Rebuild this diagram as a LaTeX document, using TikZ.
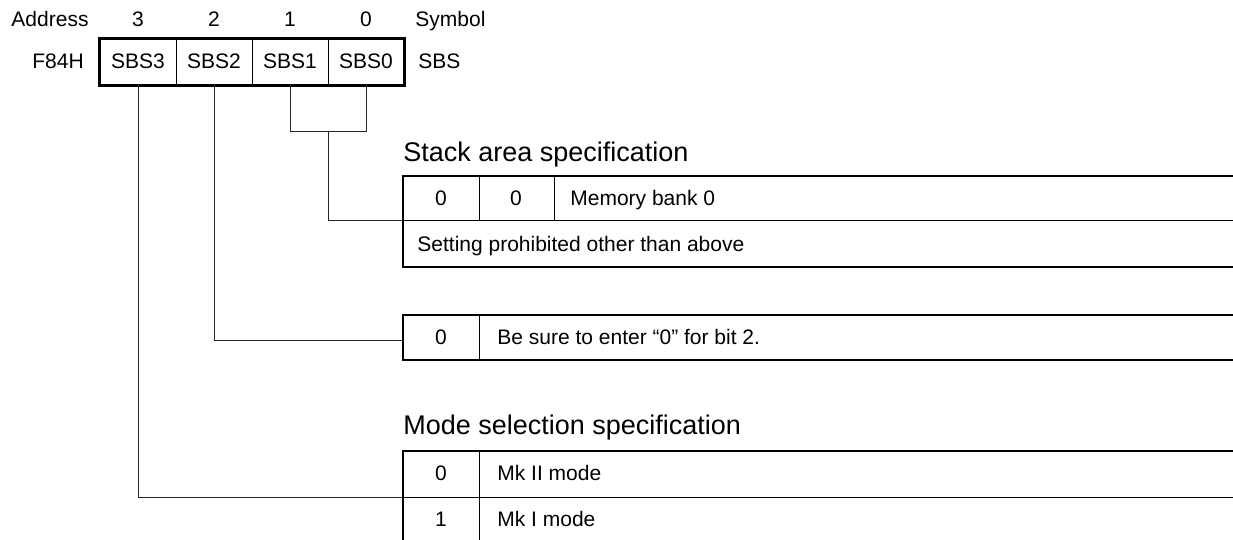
\documentclass[tikz,border=0pt]{standalone}
\usepackage{fontspec}
\setmainfont{Liberation Sans}
\usetikzlibrary{positioning,calc}
\tikzset{line join=miter,
  every node/.style={font=\fontsize{10.5}{12}\selectfont,text height=1.6ex,text depth=.4ex},
  regcell/.style={draw,line width=.5pt,minimum width=38pt,minimum height=23pt,inner sep=0pt},
  frame/.style={line width=1.1pt},
  rule/.style={line width=.5pt},
  wire/.style={draw=black!85,line width=.5pt},
  caption/.style={anchor=west,inner sep=0pt,font=\fontsize{13.5}{16}\selectfont},
  entry/.style={anchor=west,inner sep=0pt},
  bitval/.style={inner sep=0pt}}

\begin{document}
\begin{tikzpicture}[x=.5pt,y=-.5pt]
\useasboundingbox (0,0) rectangle (1233,540);
% register F84H, bits 3..0
\foreach \b/\x in {3/138,2/214,1/290,0/366}{
  \node[regcell] (c\b) at (\x,62) {SBS\b};
  \node[bitval] (n\b) at (\x,20) {\b};}
\draw[frame] (c3.north west) rectangle (c0.south east);
\node (addr) at (50,20) {Address};\node[entry] (sym) at (415,20) {Symbol};
\node (addrval) at (58,62) {F84H};\node[entry] (symval) at (418,62) {SBS};
% stack area table
\node[caption] (stackcap) at (403,155) {Stack area specification};
\coordinate (s1) at (403,221);
\draw[frame] (1233,176) -| (403,267) -- (1233,267);
\draw[rule] (s1) -- (1233,221) (479,176) -- (479,221) (554,176) -- (554,221);
\node[bitval] (sa) at (441,199) {0};\node[bitval] (sb) at (516,199) {0};
\node[entry] (sc) at (570,199) {Memory bank 0};
\node[entry] (sd) at (417,245) {Setting prohibited other than above};
% bit 2 table
\coordinate (b2) at (403,340);
\draw[frame] (1233,315) -| (403,360) -- (1233,360);
\draw[rule] (479,315) -- (479,360);
\node[bitval] (ba) at (441,338) {0};
\node[entry] (bb) at (497,338) {Be sure to enter “0” for bit 2.};
% mode selection table
\node[caption] (modecap) at (403,428) {Mode selection specification};
\coordinate (m1) at (403,497);
\draw[frame] (1233,451) -| (403,540);
\draw[rule] (m1) -- (1233,497) (479,451) -- (479,540);
\node[bitval] (ma) at (441,474) {0};\node[entry] (mb) at (497,474) {Mk II mode};
\node[bitval] (mc) at (441,520) {1};\node[entry] (md) at (497,520) {Mk I mode};
% connectors
\draw[wire] (c1.south) -- ++(0,46) coordinate (j1) -| (c0.south);
\coordinate (j10) at ($(j1)!.5!(j1-|c0.south)$);
\draw[wire] (j10) |- (s1);
\draw[wire] (c2.south) |- (b2);
\draw[wire] (c3.south) |- (m1);
\end{tikzpicture}
\end{document}
